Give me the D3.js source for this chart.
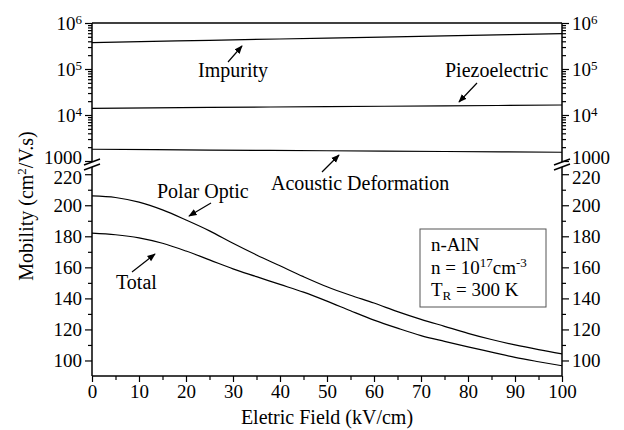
<!DOCTYPE html>
<html>
<head>
<meta charset="utf-8">
<script src="https://cdn.jsdelivr.net/npm/d3@7"></script>
<style>
  body { margin: 0; background: #fff; }
  svg text { font-family: "Liberation Serif", "Times New Roman", Times, "Nimbus Roman", Tinos, "Noto Serif", "DejaVu Serif", FreeSerif, serif; fill: #000; }
</style>
</head>
<body>
<div id="chart"></div>
<script>
// field values (kV/cm)
const field = [0, 5, 10, 15, 20, 25, 30, 35, 40, 45, 50, 55, 60, 65, 70, 75, 80, 85, 90, 95, 100];
const polarOptic = [206, 205, 202, 197, 190.5, 183.5, 175.5, 168, 161, 154, 147.5, 142, 137, 131.5, 126.5, 122, 117.5, 113.5, 110, 107, 104.3];
const total = [182, 181, 179, 175.5, 170.5, 164.8, 159, 154, 149, 144, 138.2, 132, 126, 120.8, 116, 112.3, 108.8, 105.4, 102, 99.2, 96.6];

// scattering limits on the log panel
const fieldLog = [0, 25, 50, 75, 100];
const impurity = [3.73e5, 4.2e5, 4.7e5, 5.25e5, 5.85e5];
const piezoelectric = [1.40e4, 1.46e4, 1.52e4, 1.58e4, 1.65e4];
const acoustic = [1.80e3, 1.73e3, 1.67e3, 1.61e3, 1.55e3];

const xTicks = [0, 10, 20, 30, 40, 50, 60, 70, 80, 90, 100];
const xMinor = [5, 15, 25, 35, 45, 55, 65, 75, 85, 95];
const linTicks = [100, 120, 140, 160, 180, 200, 220];
const linMinor = [110, 130, 150, 170, 190, 210];
const logTicks = [1e3, 1e4, 1e5, 1e6];

const width = 624, height = 430;
const left = 92, right = 562;
const topY = 23, logBottom = 161, linTop = 168, bottomY = 376;
const serif = '"Liberation Serif", "Times New Roman", Times, "Nimbus Roman", Tinos, "Noto Serif", "DejaVu Serif", serif';

const x = d3.scaleLinear().domain([0, 100]).range([left, right]);
const yLog = d3.scaleLog().domain([1e3, 1e6]).range([logBottom, topY]);
const yLin = d3.scaleLinear().domain([90, 224]).range([bottomY, linTop]);

const logMinor = [];
[1e3, 1e4, 1e5].forEach(d => { for (let k = 2; k < 10; k++) logMinor.push(d * k); });

const svg = d3.select("#chart").append("svg")
    .attr("width", width).attr("height", height)
    .attr("font-family", serif);

svg.append("defs").append("marker")
    .attr("id", "head")
    .attr("viewBox", "0 0 10 10")
    .attr("refX", 9).attr("refY", 5)
    .attr("markerWidth", 7).attr("markerHeight", 7)
    .attr("orient", "auto")
    .append("path").attr("d", "M0,1 L10,5 L0,9 Z").attr("fill", "#000");

function styleAxis(g) {
    g.attr("font-family", serif).attr("font-size", 19);
    g.select(".domain").remove();
    g.selectAll("line").attr("stroke", "#000").attr("stroke-width", 1.2);
}

// x axis
svg.append("g").attr("transform", `translate(0,${bottomY})`)
    .call(d3.axisBottom(x).tickValues(xTicks).tickSize(6).tickPadding(3))
    .call(styleAxis);
svg.append("g").attr("transform", `translate(0,${bottomY})`)
    .call(d3.axisBottom(x).tickValues(xMinor).tickSize(4).tickFormat(""))
    .call(styleAxis);

// linear panel axes, both sides
[[d3.axisLeft, left], [d3.axisRight, right]].forEach(([ax, pos]) => {
    svg.append("g").attr("transform", `translate(${pos},0)`)
        .call(ax(yLin).tickValues(linTicks).tickSize(7).tickPadding(3))
        .call(styleAxis)
        .call(g => g.selectAll(".tick text").filter(d => d === 220).attr("dy", "0.5em"));
    svg.append("g").attr("transform", `translate(${pos},0)`)
        .call(ax(yLin).tickValues(linMinor).tickSize(4).tickFormat(""))
        .call(styleAxis);

    const lg = svg.append("g").attr("transform", `translate(${pos},0)`)
        .call(ax(yLog).tickValues(logTicks).tickSize(7).tickPadding(3).tickFormat(""))
        .call(styleAxis);
    lg.selectAll(".tick text").each(function(d) {
        const t = d3.select(this);
        if (d === 1e3) { t.text("1000").attr("dy", "0.15em"); return; }
        t.append("tspan").text("10");
        t.append("tspan").attr("dy", "-0.45em").attr("font-size", 13).text(Math.round(Math.log10(d)));
    });
    svg.append("g").attr("transform", `translate(${pos},0)`)
        .call(ax(yLog).tickValues(logMinor).tickSize(4).tickFormat(""))
        .call(styleAxis);
});

// frame lines and axis breaks
const frame = svg.append("g").attr("stroke", "#000").attr("stroke-width", 1.5).attr("fill", "none");
frame.append("line").attr("x1", left).attr("x2", right).attr("y1", topY).attr("y2", topY);
frame.append("line").attr("x1", left).attr("x2", right).attr("y1", bottomY).attr("y2", bottomY);
[left, right].forEach(px => {
    frame.append("line").attr("x1", px).attr("x2", px).attr("y1", topY).attr("y2", logBottom + 1);
    frame.append("line").attr("x1", px).attr("x2", px).attr("y1", linTop - 1).attr("y2", bottomY);
    [logBottom + 1, linTop - 1].forEach(by => {
        frame.append("line").attr("x1", px - 8).attr("x2", px + 8)
            .attr("y1", by + 3).attr("y2", by - 3);
    });
});

// curves
const lineLin = d3.line().x((d, i) => x(field[i])).y(d => yLin(d)).curve(d3.curveMonotoneX);
const lineLog = d3.line().x((d, i) => x(fieldLog[i])).y(d => yLog(d)).curve(d3.curveMonotoneX);
const curves = svg.append("g").attr("fill", "none").attr("stroke", "#000").attr("stroke-width", 1.2);
[polarOptic, total].forEach(s => curves.append("path").attr("d", lineLin(s)));
[impurity, piezoelectric, acoustic].forEach(s => curves.append("path").attr("d", lineLog(s)));

// labels with arrows
const notes = [
    {text: "Impurity", tx: 198, ty: 77, a: [228, 62, 242, 46]},
    {text: "Piezoelectric", tx: 445, ty: 77, a: [477, 83, 459, 102]},
    {text: "Acoustic Deformation", tx: 271, ty: 190, a: [322, 172, 339, 155]},
    {text: "Polar Optic", tx: 157, ty: 198, a: [211, 203, 189, 216]},
    {text: "Total", tx: 116, ty: 289, a: [132, 272, 155, 254]}
];
notes.forEach(n => {
    svg.append("text").attr("x", n.tx).attr("y", n.ty).attr("font-size", 20).text(n.text);
    svg.append("line").attr("x1", n.a[0]).attr("y1", n.a[1]).attr("x2", n.a[2]).attr("y2", n.a[3])
        .attr("stroke", "#000").attr("stroke-width", 1.2).attr("marker-end", "url(#head)");
});

// info box
svg.append("rect").attr("x", 420).attr("y", 229).attr("width", 126).attr("height", 78)
    .attr("fill", "#fff").attr("stroke", "#555").attr("stroke-width", 1);
const info = svg.append("g").attr("font-size", 19);
info.append("text").attr("x", 431).attr("y", 251).text("n-AlN");
const l2 = info.append("text").attr("x", 431).attr("y", 274);
l2.append("tspan").text("n = 10");
l2.append("tspan").attr("dy", -7).attr("font-size", 13).text("17");
l2.append("tspan").attr("dy", 7).text("cm");
l2.append("tspan").attr("dy", -7).attr("font-size", 13).text("-3");
const l3 = info.append("text").attr("x", 431).attr("y", 296);
l3.append("tspan").text("T");
l3.append("tspan").attr("dy", 4).attr("font-size", 13).text("R");
l3.append("tspan").attr("dy", -4).text(" = 300 K");

// axis titles
svg.append("text").attr("x", (left + right) / 2).attr("y", 424)
    .attr("text-anchor", "middle").attr("font-size", 20).text("Eletric Field (kV/cm)");
const yt = svg.append("text").attr("transform", "translate(33,206) rotate(-90)")
    .attr("text-anchor", "middle").attr("font-size", 20);
yt.append("tspan").text("Mobility (cm");
yt.append("tspan").attr("dy", -7).attr("font-size", 13).text("2");
yt.append("tspan").attr("dy", 7).text("/V.s)");
</script>
</body>
</html>
